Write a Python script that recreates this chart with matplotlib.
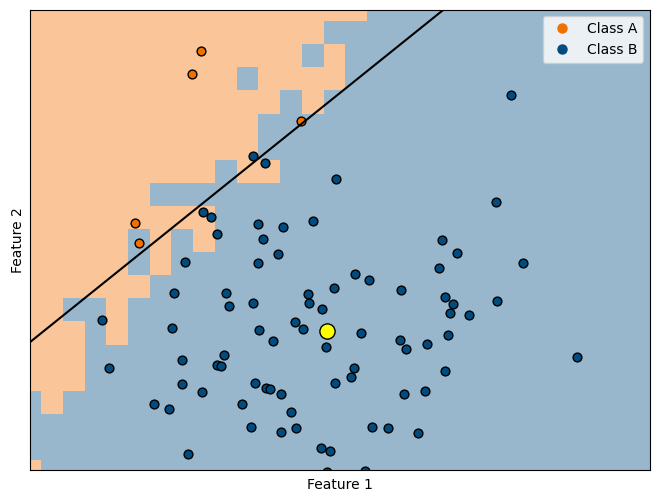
import numpy as np
import matplotlib
matplotlib.use("Agg")
import matplotlib.pyplot as plt
from matplotlib.colors import ListedColormap
from matplotlib.lines import Line2D

# ---------------- data ----------------
class_a_x = [2.01, 1.92, 3.01, 1.35, 1.39]
class_a_y = [4.50, 4.27, 3.80, 2.78, 2.58]

class_b_x = [2.53, 2.65, 3.36, 2.03, 2.11, 2.17, 2.58, 2.83, 3.13, 2.63,
             2.78, 2.58, 1.85, 5.11, 4.96, 4.42, 4.57, 4.39, 5.23, 3.55,
             3.69, 3.34, 3.08, 4.01, 2.53, 3.09, 1.74, 2.26, 2.29, 1.02,
             4.45, 4.53, 4.50, 4.69, 4.97, 3.22, 2.95, 3.03, 2.59, 2.73,
             3.61, 4.00, 4.06, 4.27, 4.48, 5.77, 3.26, 1.72, 1.09, 1.82,
             2.24, 2.17, 2.21, 3.54, 3.51, 3.35, 4.45, 1.82, 2.02, 2.55,
             2.66, 2.70, 2.81, 2.91, 2.42, 1.54, 1.69, 4.04, 4.25, 2.51,
             2.81, 2.96, 3.72, 3.88, 4.18, 3.21, 3.30, 1.88, 3.27, 3.65]
class_b_y = [3.45, 3.38, 3.22, 2.89, 2.84, 2.67, 2.77, 2.74, 2.80, 2.62,
             2.47, 2.38, 2.39, 4.06, 2.99, 2.61, 2.48, 2.33, 2.38, 2.27,
             2.21, 2.13, 2.07, 2.11, 1.98, 1.98, 2.08, 2.08, 1.95, 1.81,
             2.04, 1.97, 1.88, 1.86, 2.00, 1.92, 1.79, 1.72, 1.71, 1.60,
             1.68, 1.61, 1.52, 1.57, 1.66, 1.44, 1.54, 1.73, 1.33, 1.41,
             1.46, 1.36, 1.35, 1.33, 1.24, 1.18, 1.30, 1.17, 1.09, 1.18,
             1.13, 1.12, 1.07, 0.89, 0.97, 0.97, 0.92, 1.07, 1.10, 0.74,
             0.69, 0.73, 0.74, 0.73, 0.68, 0.53, 0.50, 0.47, 0.295, 0.30]

query_x = [3.27]
query_y = [1.70]

# decision line y = slope * x + intercept
line_slope = 0.8035
line_intercept = 1.35

# predicted class per mesh cell (top row first); A = Class A, B = Class B
grid_rows = [
    "A" * 16 + "B" * 13,
    "A" * 14 + "B" * 15,
    "A" * 13 + "B" + "A" + "B" * 14,
    "A" * 10 + "B" + "A" * 4 + "B" * 14,
    "A" * 12 + "B" + "A" + "B" * 15,
    "A" * 11 + "B" * 18,
    "A" * 11 + "B" * 18,
    "A" * 9 + "B" + "A" * 2 + "B" * 17,
    "A" * 6 + "B" * 23,
    "A" * 9 + "B" * 20,
    "A" * 5 + "B" + "A" + "B" + "A" + "B" * 20,
    "A" * 5 + "B" + "A" + "B" * 22,
    "A" * 6 + "B" * 23,
    "A" * 2 + "B" * 2 + "A" + "B" * 24,
    "A" * 3 + "B" + "A" + "B" * 24,
    "A" * 3 + "B" * 26,
    "A" * 3 + "B" * 26,
    "B" + "A" + "B" * 27,
    "B" * 29,
    "B" * 29,
    "A" + "B" * 28,
]
grid_x0, grid_dx = 0.19, 0.2175
grid_y0, grid_dy = 0.179, 0.231

labels = ["Class A", "Class B"]
color_a = "#f07000"
color_b = "#004c80"

# ---------------- plot ----------------
Z = np.array([[0 if c == "A" else 1 for c in row] for row in grid_rows[::-1]])
nrows, ncols = Z.shape
xe = grid_x0 + grid_dx * np.arange(ncols + 1)
ye = grid_y0 + grid_dy * np.arange(nrows + 1)

fig = plt.figure(figsize=(6.59, 5.01), dpi=100)
ax = fig.add_axes([30.3 / 659, 31 / 501, 619.7 / 659, 460.5 / 501])

ax.pcolormesh(xe, ye, Z, cmap=ListedColormap([color_a, color_b]),
              alpha=0.4, shading="flat", vmin=0, vmax=1, edgecolors="none")

ax.scatter(class_a_x, class_a_y, s=40, c=color_a, edgecolors="k", linewidths=1)
ax.scatter(class_b_x, class_b_y, s=40, c=color_b, edgecolors="k", linewidths=1)
ax.scatter(query_x, query_y, s=120, c="yellow", edgecolors="k", linewidths=1)

xs = np.array([0.0, 7.0])
ax.plot(xs, line_slope * xs + line_intercept, color="k", linewidth=1.5)

ax.set_xlim(0.30, 6.50)
ax.set_ylim(0.31, 4.915)
ax.set_xticks([])
ax.set_yticks([])
ax.set_xlabel("Feature 1", labelpad=6)
ax.set_ylabel("Feature 2")

handles = [Line2D([], [], marker="o", linestyle="none", color=color_a, markersize=6.5),
           Line2D([], [], marker="o", linestyle="none", color=color_b, markersize=6.5)]
ax.legend(handles, labels, loc="upper right")

fig.savefig("out.png", dpi=100)
